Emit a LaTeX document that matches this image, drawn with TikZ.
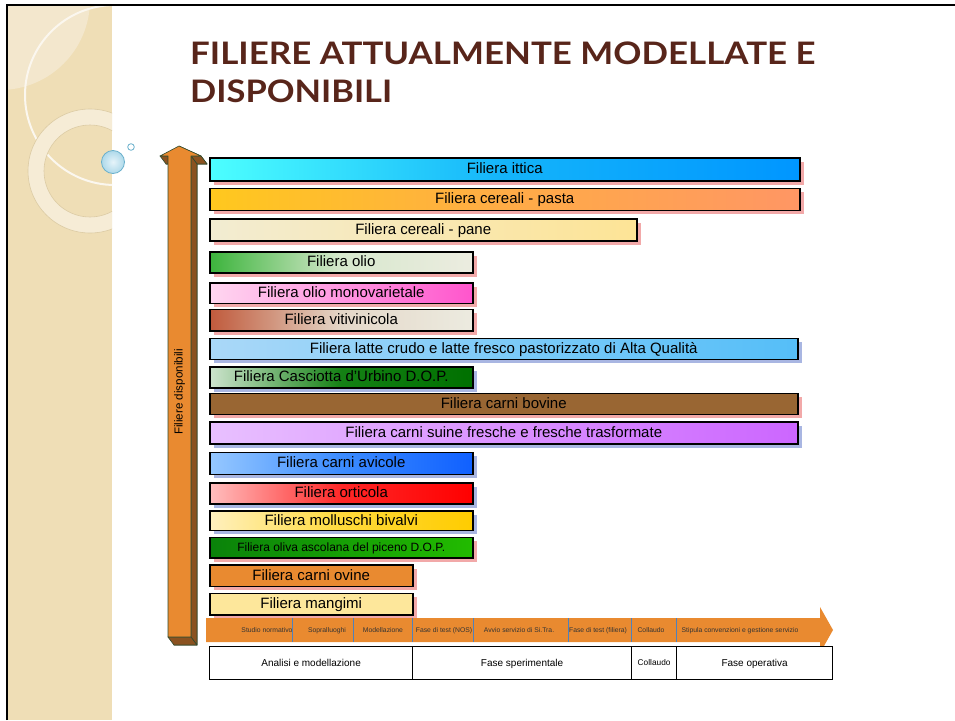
\documentclass[tikz,border=0pt]{standalone}
\usepackage{fontspec}
\setmainfont{Liberation Sans}
\newfontfamily\titlefont{Lato}
\usetikzlibrary{shadows}
\definecolor{side}{HTML}{EFDEB6}
\definecolor{sidelight}{HTML}{F3E7CD}
\definecolor{ringc}{HTML}{F6ECD6}
\definecolor{ringe}{HTML}{DCCBA4}
\definecolor{titlec}{HTML}{58251A}
\definecolor{orng}{HTML}{E98A30}
\definecolor{brwn}{HTML}{8B5220}
\definecolor{arrline}{HTML}{2F4A2F}
\definecolor{shred}{HTML}{F2A9A9}
\definecolor{shblue}{HTML}{A9B6E2}
\definecolor{divc}{HTML}{4F81BD}
\definecolor{bubf}{HTML}{BFE3F1}
\definecolor{bubd}{HTML}{6AB0CC}
\tikzset{
  bar/.style={draw=black, line width=1.5pt, anchor=north west, inner sep=0pt,
    font=\fontsize{15}{17}\selectfont, text=black, text height=11.5pt, text depth=2.5pt},
  redsh/.style={drop shadow={shadow xshift=4pt, shadow yshift=-4pt, fill=shred, opacity=1}},
  blush/.style={drop shadow={shadow xshift=4pt, shadow yshift=-4pt, fill=shblue, opacity=1}},
  tab/.style={font=\fontsize{6.8}{8}\selectfont, text=black!80, inner sep=0pt, text height=5.2pt, text depth=1.2pt},
  phase/.style={draw=black, line width=1.2pt, anchor=north west, inner sep=0pt,
    minimum height=33pt, fill=white, font=\fontsize{10}{12}\selectfont, text height=8.6pt, text depth=1.6pt},
  ext/.style={fill=brwn, draw=arrline, line width=0.6pt, line join=round},
  ttl/.style={anchor=base west, inner sep=0pt, text=titlec, font=\titlefont\bfseries\fontsize{31}{36}\selectfont},
}
\begin{document}
\begin{tikzpicture}[x=1pt,y=-1pt]
\useasboundingbox (0,0) rectangle (955,720);
\fill[white] (0,0) rectangle (955,720);
% sidebar
\begin{scope}
  \clip (8,5) rectangle (112,720);
  \fill[side] (8,5) rectangle (112,720);
  \fill[sidelight] (0,0) circle (90);
  \draw[white!60!ringc, line width=2pt] (115,95) circle (90);
  \fill[ringc, even odd rule] (90,171) circle (62) (90,171) circle (46);
  \draw[ringe, line width=0.6pt] (90,171) circle (62) (90,171) circle (46);
\end{scope}
\draw[line width=2pt] (7,720) -- (7,5) -- (955,5);
% bubbles
\shade[inner color=white!60!bubf, outer color=bubf!80!bubd, draw=bubd, line width=0.8pt] (113,162) circle (11.5);
\draw[bubd, fill=white, line width=0.8pt] (131,147) circle (3.3);
% title
\node[ttl] (t1) at (190,64) {\scalebox{1.125}[1]{FILIERE ATTUALMENTE MODELLATE E}};
\node[ttl] (t2) at (190,102) {\scalebox{1.11}[1]{DISPONIBILI}};
% vertical 3D arrow
\fill[ext] (166,164) -- (185,154) -- (207,164) -- (197,164) -- (197,645) -- (174,645) -- (174,164) -- cycle;
\fill[ext] (160,156) -- (168,156) -- (174,164) -- (166,164) -- cycle;
\fill[ext] (179,146) -- (201,156) -- (207,164) -- (185,154) -- cycle;
\fill[ext] (191,156) -- (201,156) -- (207,164) -- (197,164) -- cycle;
\fill[ext] (191,156) -- (197,164) -- (197,645) -- (191,637) -- cycle;
\fill[ext] (168,637) -- (191,637) -- (197,645) -- (174,645) -- cycle;
\filldraw[fill=orng, draw=arrline, line width=0.6pt, line join=round]
  (179,146) -- (201,156) -- (191,156) -- (191,637) -- (168,637) -- (168,156) -- (160,156) -- cycle;
\node[rotate=90, font=\fontsize{11.6}{13}\selectfont, inner sep=0pt] (vl) at (179.5,392) {Filiere disponibili};
% bars
\node[bar, redsh, left color=cyan!70!white, right color={rgb,255:red,0;green,150;blue,255}, middle color={rgb,255:red,20;green,180;blue,250}, minimum width=590pt, minimum height=23pt] (b1) at (209,157) {Filiera ittica};
\node[bar, redsh, left color={rgb,255:red,255;green,200;blue,30}, right color={rgb,255:red,255;green,150;blue,100}, middle color={rgb,255:red,255;green,172;blue,70}, minimum width=590pt, minimum height=22pt] (b2) at (209,187.5) {Filiera cereali - pasta};
\node[bar, redsh, left color={rgb,255:red,242;green,236;blue,210}, right color={rgb,255:red,253;green,228;blue,150}, middle color={rgb,255:red,248;green,232;blue,180}, minimum width=427pt, minimum height=22pt] (b3) at (209,218) {Filiera cereali - pane};
\node[bar, redsh, left color={rgb,255:red,60;green,180;blue,60}, right color={rgb,255:red,236;green,236;blue,224}, middle color={rgb,255:red,215;green,232;blue,205}, minimum width=263pt, minimum height=21pt] (b4) at (209,251) {Filiera olio};
\node[bar, redsh, left color={rgb,255:red,255;green,215;blue,240}, right color={rgb,255:red,255;green,85;blue,204}, middle color={rgb,255:red,255;green,150;blue,225}, minimum width=263pt, minimum height=20.5pt] (b5) at (209,282) {Filiera olio monovarietale};
\node[bar, redsh, left color={rgb,255:red,192;green,90;blue,60}, right color={rgb,255:red,236;green,235;blue,224}, middle color={rgb,255:red,228;green,215;blue,200}, minimum width=263pt, minimum height=21.5pt] (b6) at (209,308.5) {Filiera vitivinicola};
\node[bar, blush, left color={rgb,255:red,170;green,216;blue,248}, right color={rgb,255:red,85;green,190;blue,248}, middle color={rgb,255:red,125;green,203;blue,248}, minimum width=588pt, minimum height=21pt] (b7) at (209,337.5) {Filiera latte crudo e latte fresco pastorizzato di Alta Qualità};
\node[bar, blush, left color={rgb,255:red,205;green,228;blue,205}, right color={rgb,255:red,0;green,112;blue,0}, middle color={rgb,255:red,20;green,128;blue,20}, minimum width=263pt, minimum height=21pt] (b8) at (209,366) {Filiera Casciotta d’Urbino D.O.P.};
\node[bar, redsh, fill={rgb,255:red,153;green,102;blue,51}, minimum width=588pt, minimum height=21pt] (b9) at (209,392.5) {Filiera carni bovine};
\node[bar, blush, left color={rgb,255:red,232;green,192;blue,255}, right color={rgb,255:red,204;green,102;blue,255}, middle color={rgb,255:red,218;green,145;blue,255}, minimum width=588pt, minimum height=22pt] (b10) at (209,421) {Filiera carni suine fresche e fresche trasformate};
\node[bar, blush, left color={rgb,255:red,150;green,200;blue,255}, right color={rgb,255:red,16;green,96;blue,255}, middle color={rgb,255:red,60;green,140;blue,255}, minimum width=263pt, minimum height=22pt] (b11) at (209,451.5) {Filiera carni avicole};
\node[bar, blush, left color={rgb,255:red,255;green,190;blue,190}, right color={rgb,255:red,255;green,0;blue,0}, middle color={rgb,255:red,255;green,40;blue,40}, minimum width=263pt, minimum height=21pt] (b12) at (209,482) {Filiera orticola};
\node[bar, blush, left color={rgb,255:red,255;green,240;blue,190}, right color={rgb,255:red,255;green,204;blue,0}, middle color={rgb,255:red,255;green,218;blue,60}, minimum width=263pt, minimum height=19.5pt] (b13) at (209,510) {Filiera molluschi bivalvi};
\node[bar, redsh, left color={rgb,255:red,10;green,130;blue,10}, right color={rgb,255:red,34;green,187;blue,0}, font=\fontsize{12}{14}\selectfont, text height=9.2pt, text depth=2pt, minimum width=263pt, minimum height=20.5pt] (b14) at (209,536.5) {Filiera oliva ascolana del piceno D.O.P.};
\node[bar, redsh, fill=orng, minimum width=203pt, minimum height=21.5pt] (b15) at (209,564) {Filiera carni ovine};
\node[bar, redsh, fill={rgb,255:red,253;green,231;blue,155}, minimum width=203pt, minimum height=21.5pt] (b16) at (209,592.5) {Filiera mangimi};
% timeline arrow
\fill[orng] (206,618) -- (820,618) -- (820,607) -- (833,630) -- (820,653) -- (820,642) -- (206,642) -- cycle;
\foreach \xx in {292,353,412,473,568,631,676} \draw[divc, line width=0.8pt] (\xx,618) -- (\xx,642);
\node[tab] (s1) at (267,630.5) {Studio normativo};
\node[tab] (s2) at (327,630.5) {Sopralluoghi};
\node[tab] (s3) at (383,630.5) {Modellazione};
\node[tab] (s4) at (444,630.5) {Fase di test (NOS)};
\node[tab] (s5) at (519,630.5) {Avvio servizio di Si.Tra.};
\node[tab] (s6) at (598,630.5) {Fase di test (filiera)};
\node[tab] (s7) at (651,630.5) {Collaudo};
\node[tab] (s8) at (740,630.5) {Stipula convenzioni e gestione servizio};
% phases
\node[phase, minimum width=203pt] (p1) at (209,645.5) {Analisi e modellazione};
\node[phase, minimum width=219pt] (p2) at (412,645.5) {Fase sperimentale};
\node[phase, minimum width=45pt, font=\fontsize{8.3}{10}\selectfont, text height=7.1pt, text depth=1.3pt] (p3) at (631,645.5) {Collaudo};
\node[phase, minimum width=156pt] (p4) at (676,645.5) {Fase operativa};
\end{tikzpicture}
\end{document}
